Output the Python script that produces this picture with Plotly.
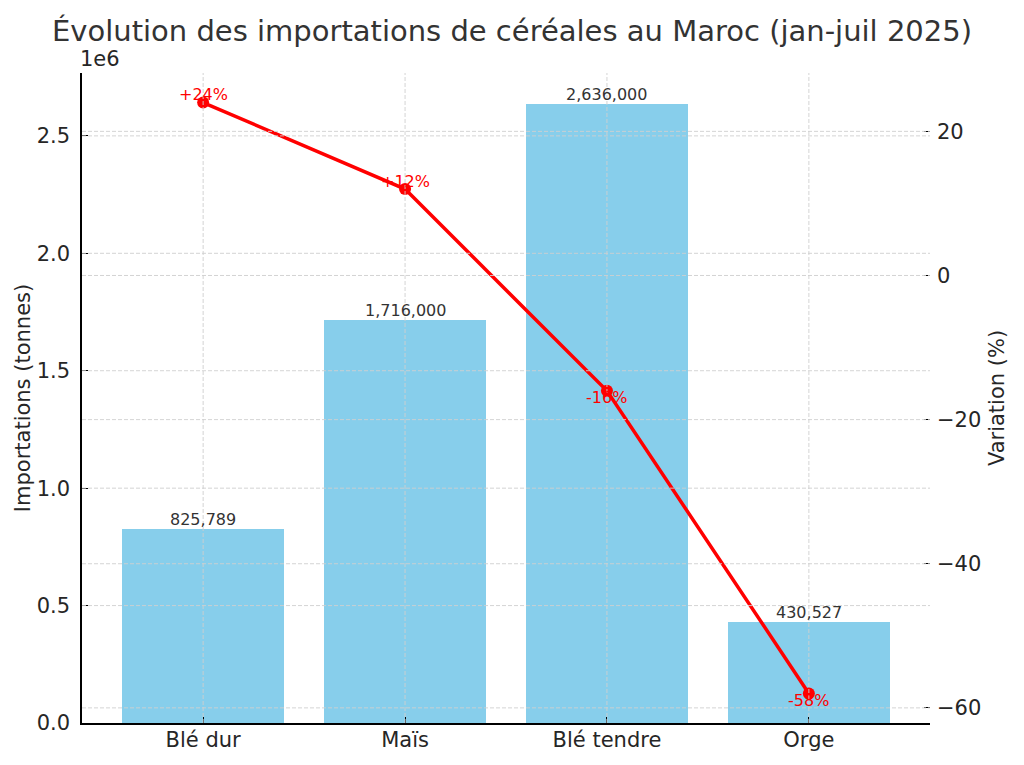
import plotly.graph_objects as go

categories = ["Blé dur", "Maïs", "Blé tendre", "Orge"]
imports_t = [825789, 1716000, 2636000, 430527]
variation_pct = [24, 12, -16, -58]
left_ticks = [0, 500000, 1000000, 1500000, 2000000, 2500000]
left_ticktext = ["0.0", "0.5", "1.0", "1.5", "2.0", "2.5"]
right_ticks = [20, 0, -20, -40, -60]
right_ticktext = ["20", "0", "\u221220", "\u221240", "\u221260"]

FONT = "DejaVu Sans"
TXT = "#262626"
GRID = "#cfcfcf"

xpos = list(range(len(categories)))
y1max = max(imports_t) * 1.05
vr = max(variation_pct) - min(variation_pct)
y2min = min(variation_pct) - 0.05 * vr
y2max = max(variation_pct) + 0.05 * vr

fig = go.Figure()
fig.add_trace(go.Bar(x=xpos, y=imports_t, marker=dict(color="#87CEEB", line=dict(width=0)),
                     width=0.8, yaxis="y", showlegend=False))
fig.add_trace(go.Scatter(x=xpos, y=variation_pct, mode="lines+markers", yaxis="y2",
                         line=dict(color="red", width=3.5),
                         marker=dict(color="red", size=12, line=dict(width=0)),
                         showlegend=False))

gl = dict(color=GRID, width=0.9, dash="4px,2px")
shapes = []
for xv in xpos:
    shapes.append(dict(type="line", xref="x", yref="paper", x0=xv, x1=xv, y0=0, y1=1,
                       line=gl, layer="above"))
for yv in left_ticks[1:]:
    shapes.append(dict(type="line", xref="paper", yref="y", x0=0, x1=1, y0=yv, y1=yv,
                       line=gl, layer="above"))
for yv in right_ticks:
    shapes.append(dict(type="line", xref="paper", yref="y2", x0=0, x1=1, y0=yv, y1=yv,
                       line=gl, layer="above"))

annotations = []
for xv, v in zip(xpos, imports_t):
    annotations.append(dict(x=xv, y=v, xref="x", yref="y", text=f"{v:,}", showarrow=False,
                            yanchor="bottom", yshift=-2, font=dict(family=FONT, size=16, color="#333333")))
for xv, v in zip(xpos, variation_pct):
    lab = f"+{v}%" if v > 0 else f"{v}%"
    annotations.append(dict(x=xv, y=v, xref="x", yref="y2", text=lab, showarrow=False,
                            yanchor="middle", yshift=8 if v > 0 else -7,
                            font=dict(family=FONT, size=16, color="red")))
annotations.append(dict(x=0, y=1, xref="paper", yref="paper", text="1e6", showarrow=False,
                        xanchor="left", yanchor="bottom", yshift=0, xshift=-4,
                        font=dict(family=FONT, size=21, color=TXT)))

fig.update_layout(
    template="none",
    width=1024, height=765,
    margin=dict(l=82, r=94, t=73, b=42, autoexpand=False),
    paper_bgcolor="white", plot_bgcolor="white",
    font=dict(family=FONT, color=TXT),
    title=dict(text="Évolution des importations de céréales au Maroc (jan-juil 2025)",
               x=0.5, xanchor="center", y=0.96, yanchor="middle",
               font=dict(family=FONT, size=29, color="#333333")),
    bargap=0,
    xaxis=dict(range=[-0.6, 3.6], tickvals=xpos, ticktext=categories, showgrid=False,
               zeroline=False, showline=True, linecolor="black", linewidth=1.5,
               ticks="inside", ticklen=6, tickcolor="black", automargin=False,
               ticklabelstandoff=-3,
               tickfont=dict(family=FONT, size=21, color=TXT)),
    yaxis=dict(range=[0, y1max], tickvals=left_ticks, ticktext=left_ticktext,
               showgrid=False, zeroline=False, showline=True, linecolor="black", linewidth=1.5,
               ticks="inside", ticklen=6, tickcolor="black", automargin=False,
               ticklabelstandoff=6,
               title=dict(text="Importations (tonnes)", font=dict(family=FONT, size=21, color=TXT), standoff=0),
               tickfont=dict(family=FONT, size=21, color=TXT)),
    yaxis2=dict(range=[y2min, y2max], overlaying="y", side="right", tickvals=right_ticks,
                ticktext=right_ticktext, showgrid=False, zeroline=False, showline=False,
                ticks="inside", ticklen=6, tickcolor="black", automargin=False,
                ticklabelstandoff=6,
                title=dict(text="Variation (%)", font=dict(family=FONT, size=21, color=TXT), standoff=8),
                tickfont=dict(family=FONT, size=21, color=TXT)),
    shapes=shapes, annotations=annotations,
)

fig.write_html("out.html")
